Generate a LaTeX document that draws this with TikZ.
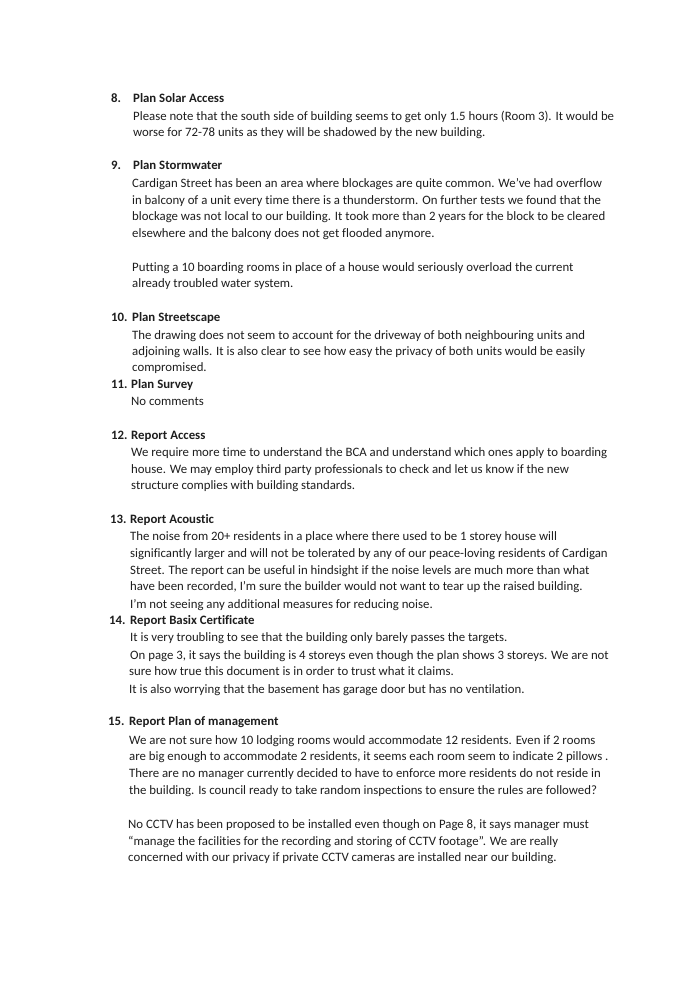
\documentclass[tikz,border=0pt]{standalone}
\usepackage{fontspec}
\setmainfont{Carlito}[Ligatures={NoCommon}]
\definecolor{inkColor}{RGB}{30,30,30}
\tikzset{
  num/.style ={anchor=mid west, inner sep=0pt, font=\fontsize{12.8}{15}\selectfont\bfseries, text=inkColor},
  head/.style={anchor=mid west, inner sep=0pt, font=\fontsize{12.8}{15}\selectfont\bfseries, text=inkColor},
  body/.style={anchor=mid west, inner sep=0pt, font=\fontsize{12.8}{15}\selectfont, text=inkColor},
}
\begin{document}
\begin{tikzpicture}[x=1pt, y=-1pt]
\useasboundingbox[fill=white] (0,0) rectangle (694,990);
%% 8
\node[num]  (n8)  at (111,100) {8.};
\node[head] (h8)  at (133,100) {Plan Solar Access};
\node[body] (b8a) at (133,118) {Please note that the south side of building seems to get only 1.5 hours (Room 3). It would be};
\node[body] (b8b) at (133,134) {worse for 72-78 units as they will be shadowed by the new building.};
%% 9
\node[num]  (n9)  at (111,167) {9.};
\node[head] (h9)  at (133,167) {Plan Stormwater};
\node[body] (b9a) at (132,185) {Cardigan Street has been an area where blockages are quite common. We’ve had overflow};
\node[body] (b9b) at (132,202) {in balcony of a unit every time there is a thunderstorm. On further tests we found that the};
\node[body] (b9c) at (132,218) {blockage was not local to our building. It took more than 2 years for the block to be cleared};
\node[body] (b9d) at (132,235) {elsewhere and the balcony does not get flooded anymore.};
\node[body] (b9e) at (132,269) {Putting a 10 boarding rooms in place of a house would seriously overload the current};
\node[body] (b9f) at (132,285) {already troubled water system.};
%% 10
\node[num]  (n10)  at (111,319) {10.};
\node[head] (h10)  at (132,319) {Plan Streetscape};
\node[body] (b10a) at (132,337) {The drawing does not seem to account for the driveway of both neighbouring units and};
\node[body] (b10b) at (132,353) {adjoining walls. It is also clear to see how easy the privacy of both units would be easily};
\node[body] (b10c) at (132,369) {compromised.};
%% 11
\node[num]  (n11)  at (111,386) {11.};
\node[head] (h11)  at (131,386) {Plan Survey};
\node[body] (b11a) at (131,403) {No comments};
%% 12
\node[num]  (n12)  at (111,437) {12.};
\node[head] (h12)  at (131,437) {Report Access};
\node[body] (b12a) at (131,454) {We require more time to understand the BCA and understand which ones apply to boarding};
\node[body] (b12b) at (131,471) {house. We may employ third party professionals to check and let us know if the new};
\node[body] (b12c) at (131,487) {structure complies with building standards.};
%% 13
\node[num]  (n13)  at (110,521) {13.};
\node[head] (h13)  at (130,521) {Report Acoustic};
\node[body] (b13a) at (130,538) {The noise from 20+ residents in a place where there used to be 1 storey house will};
\node[body] (b13b) at (130,555) {significantly larger and will not be tolerated by any of our peace-loving residents of Cardigan};
\node[body] (b13c) at (130,572) {Street. The report can be useful in hindsight if the noise levels are much more than what};
\node[body] (b13d) at (130,588) {have been recorded, I’m sure the builder would not want to tear up the raised building.};
\node[body] (b13e) at (130,606) {I’m not seeing any additional measures for reducing noise.};
%% 14
\node[num]  (n14)  at (109,622) {14.};
\node[head] (h14)  at (130,622) {Report Basix Certificate};
\node[body] (b14a) at (130,639) {It is very troubling to see that the building only barely passes the targets.};
\node[body] (b14b) at (130,657) {On page 3, it says the building is 4 storeys even though the plan shows 3 storeys. We are not};
\node[body] (b14c) at (129,673) {sure how true this document is in order to trust what it claims.};
\node[body] (b14d) at (129,691) {It is also worrying that the basement has garage door but has no ventilation.};
%% 15
\node[num]  (n15)  at (108,723) {15.};
\node[head] (h15)  at (129,723) {Report Plan of management};
\node[body] (b15a) at (129,742) {We are not sure how 10 lodging rooms would accommodate 12 residents. Even if 2 rooms};
\node[body] (b15b) at (129,758) {are big enough to accommodate 2 residents, it seems each room seem to indicate 2 pillows .};
\node[body] (b15c) at (129,775) {There are no manager currently decided to have to enforce more residents do not reside in};
\node[body] (b15d) at (129,792) {the building. Is council ready to take random inspections to ensure the rules are followed?};
\node[body] (b15e) at (128,826) {No CCTV has been proposed to be installed even though on Page 8, it says manager must};
\node[body] (b15f) at (128,843) {“manage the facilities for the recording and storing of CCTV footage”. We are really};
\node[body] (b15g) at (128,859) {concerned with our privacy if private CCTV cameras are installed near our building.};
\end{tikzpicture}
\end{document}
